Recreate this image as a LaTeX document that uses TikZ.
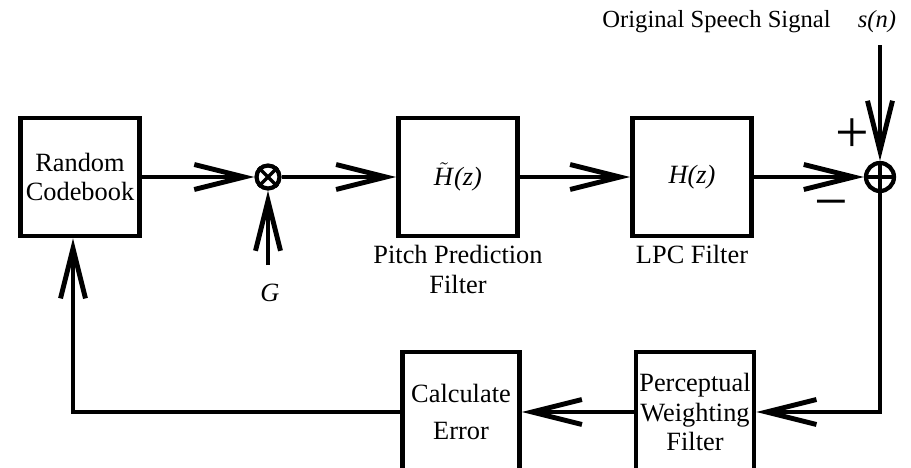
\documentclass[tikz,border=0pt]{standalone}
\usepackage{fontspec}
\setmainfont{Liberation Serif}
\usetikzlibrary{positioning}
\usetikzlibrary{arrows.meta}

\begin{document}
\begin{tikzpicture}[every node/.style={font=\fontsize{15}{17}\selectfont,align=center,inner sep=0pt},
  blk/.style={draw,line width=2.6pt,minimum width=2.38cm,minimum height=2.36cm},
  junc/.style={draw,circle,line width=2.4pt},
  sig/.style={line width=2pt,-{Straight Barb[length=1cm,width=0.5cm,line width=2.8pt]}}]
\useasboundingbox (0,0) rectangle (18.22,9.34);
% forward path
\node[blk] (cb) at (1.6,5.8) {Random\\Codebook};
\node[junc,minimum size=0.46cm] (mul) at (5.36,5.8) {};
\draw[line width=2pt] (mul.north west) -- (mul.south east) (mul.north east) -- (mul.south west);
\node[blk] (pp) at (9.16,5.8) {$\tilde{\mbox{\textit{H}}}$\textit{(z)}};
\node[blk] (lpc) at (13.84,5.8) {\textit{H(z)}};
\node[junc,minimum size=0.56cm] (sum) at (17.6,5.8) {};
\draw[line width=2pt] (sum.north) -- (sum.south) (sum.west) -- (sum.east);
\node[below=0.14cm of pp] (pplab) {Pitch Prediction\\Filter};
\node[below=0.14cm of lpc] (lpclab) {LPC Filter};
\node (g) at (5.4,3.48) {\textit{G}};
\coordinate (gin) at (5.36,4.04);
% input signal
\node[anchor=east,font=\fontsize{14}{16}\selectfont] (osig) at (16.62,8.9) {Original Speech Signal};
\node[font=\fontsize{14}{16}\selectfont] (sn) at (17.54,8.9) {\textit{s(n)}};
\coordinate (sin) at (17.6,8.44);
\node[font=\fontsize{34}{34}\selectfont] (plus) at (17.04,6.62) {+};
\node[font=\fontsize{34}{34}\selectfont] (minus) at (16.62,5.12) {\textminus};
% feedback path
\node[blk,minimum height=2.4cm,minimum width=2.34cm] (ce) at (9.22,1.1) {Calculate\\[0.14cm]Error};
\node[blk,minimum height=2.4cm,minimum width=2.36cm] (pw) at (13.9,1.1) {Perceptual\\Weighting\\Filter};
\coordinate (fb) at (1.46,1.1);

\draw[sig] (cb) -- (mul);
\draw[sig] (gin) -- (mul);
\draw[sig] (mul) -- (pp);
\draw[sig] (pp) -- (lpc);
\draw[sig] (lpc) -- (sum);
\draw[sig] (sin) -- (sum);
\draw[sig] (sum) |- (pw);
\draw[sig] (pw) -- (ce);
\draw[sig] (ce) -- (fb) -- (fb |- cb.south);
\end{tikzpicture}
\end{document}
